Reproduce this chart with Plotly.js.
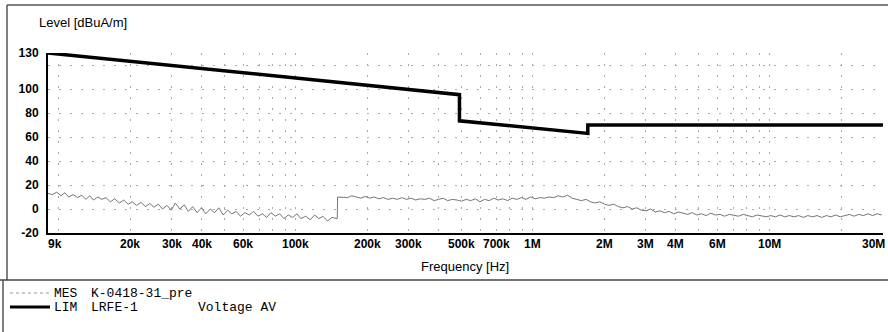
<!DOCTYPE html>
<html><head><meta charset="utf-8">
<script src="https://cdn.plot.ly/plotly-3.0.1.min.js"></script>
<style>html,body{margin:0;padding:0;background:#fff}#chart{width:888px;height:332px}</style>
</head><body><div id="chart"></div>
<script>
// MES trace (frequency in kHz, level in dBuA/m)
const mesFreqKHz = [9,9.4,9.8,10.2,10.6,11,11.5,12,12.5,13,13.5,14,14.6,15.2,15.8,16.5,17.2,18,18.8,19.6,
 20.4,21.3,22.2,23.2,24.2,25.2,26.3,27.4,28.6,29.8,31,32.4,33.8,35.2,36.7,38.3,40,41.7,43.5,45.4,
 47.3,49.4,51.5,53.7,56,58.4,61,63.6,66.3,69.2,72.2,75.3,78.5,81.9,85.4,89,92.9,96.9,101,105,
 110,115,120,125,130,136,142,149.5,150,
 158,165,172,180,188,196,205,214,224,234,245,256,268,280,293,306,320,335,350,366,383,400,418,437,457,478,
 500,523,547,572,598,625,654,684,715,748,782,818,855,894,935,978,1023,1070,1119,1170,1224,1280,1339,1400,
 1464,1531,1601,1675,1752,1832,1916,2004,2096,2192,2293,2398,2508,2623,2743,2869,3001,3139,3283,3434,
 3592,3757,3930,4110,4299,4497,4703,4919,5145,5382,5629,5888,6158,6441,6737,7047,7370,7709,8064,8434,
 8822,9227,9651,10095,10558,11044,11551,12082,12637,13218,13825,14460,15125,15820,16547,17307,18102,18934,19804,20714,
 21666,22661,23702,24791,25930,27122,28368,29672];
const mesLevel = [13,12,14,11,13.5,10,12,9.5,11.5,8,11,7.5,10,8,9.5,6,8.5,5,7.5,4,
 6,3,5.5,2,4.5,1.5,4,0,3,-1,5,0,3.5,-2,2,-3,1,-4,0,-3,
 1,-5,-1,-4,-2,-6,-3,-5,-2,-6,-4,-7,-3,-6,-4,-8,-5,-7,-4,-8,
 -6,-9,-5,-8,-6,-10,-7,-8,10,
 10,9.5,11,10,9,10.5,9,10,8.5,9.5,8,9,8,9.5,8,9,7.5,8.5,8,9,7,8,9,7,8,7.5,
 6.5,8,7,8.5,6,8,7,9,7.5,8.5,7,9,8,9.5,8,10,8.5,9.5,9,10,9.5,11,10,11.5,
 9,8,7,8,6,5,6,4,3,4,2,1,2,0,1,-1,-1.5,0,-2.5,-1.5,
 -3,-2,-4,-2.5,-3.5,-4.5,-3,-5,-4,-5.5,-3.5,-5,-4.5,-6,-4.5,-5.5,-6,-4.5,-5.5,-6.5,
 -5,-5.5,-6.5,-5.5,-6.5,-5,-6.5,-5.5,-6.5,-5.5,-7,-5.5,-6.5,-5.5,-7,-5.5,-6.5,-5,-6.5,-5.5,
 -4.5,-6,-4.5,-5.5,-4,-5.5,-4,-5];

// LIM LRFE-1 limit line
const limFreqKHz = [9,490,490,1705,1705,30000];
const limLevel = [130,95.3,73.5,63,70,70];

// axes
const gridFreqKHz = [10,20,30,40,50,60,70,80,90,100,200,300,400,500,600,700,800,900,
 1000,2000,3000,4000,5000,6000,7000,8000,9000,10000,20000,30000];
const xTickKHz = [9,20,30,40,60,100,200,300,500,700,1000,2000,3000,4000,6000,10000,30000];
const xTickText = ['9k','20k','30k','40k','60k','100k','200k','300k','500k','700k','1M','2M','3M','4M','6M','10M','30M'];
const yTickVals = [-20,0,20,40,60,80,100,120,130];
const yTickText = ['-20','0','20','40','60','80','100','','130'];

const toHz = a => a.map(v => v*1000);
const mesHz = toHz(mesFreqKHz), limHz = toHz(limFreqKHz);

const traces = [
 {x: mesHz, y: mesLevel, type:'scatter', mode:'lines', name:'MES',
  line:{color:'#666', width:0.9}, hoverinfo:'skip'},
 {x: limHz, y: limLevel, type:'scatter', mode:'lines', name:'LIM',
  line:{color:'#000', width:3.5}, hoverinfo:'skip'}
];

// pixel -> paper helpers (plot area l=48, r=883, t=53, b=233)
const PX = px => (px-48)/835;
const PY = py => (233-py)/180;

const tickFont = {size:12, color:'#000', weight:'bold'};
const annotations = [];
xTickKHz.forEach((f,i) => {
  let anchor = 'center', shift = 0;
  if (i === 0) { anchor = 'left'; shift = -2; }
  if (i === xTickKHz.length-1) { anchor = 'right'; shift = 4; }
  annotations.push({x: Math.log10(f*1000), y: PY(244), xref:'x', yref:'paper', text: xTickText[i],
    showarrow:false, xanchor:anchor, yanchor:'middle', xshift:shift, font:tickFont});
});
annotations.push({x: PX(37), y: PY(23), xref:'paper', yref:'paper', text:'Level [dBuA/m]', showarrow:false,
  xanchor:'left', yanchor:'middle', font:{size:13,color:'#000'}});
annotations.push({x: PX(465), y: PY(266), xref:'paper', yref:'paper', text:'Frequency [Hz]', showarrow:false,
  xanchor:'center', yanchor:'middle', font:{size:13,color:'#000'}});
const mono = {family:'"Liberation Mono", "DejaVu Sans Mono", monospace', size:13, color:'#000'};
[['MES',53,293],['K-0418-31_pre',90,293],['LIM',53,307],['LRFE-1',90,307],['Voltage AV',197,307]].forEach(t => {
  annotations.push({x: PX(t[1]), y: PY(t[2]), xref:'paper', yref:'paper', text:t[0], showarrow:false,
    xanchor:'left', yanchor:'middle', font:mono, borderpad:0});
});

const shapes = [
 {type:'line', xref:'paper', yref:'paper', x0:PX(7), x1:PX(888), y0:PY(5), y1:PY(5), line:{color:'#555', width:1.5}},
 {type:'line', xref:'paper', yref:'paper', x0:PX(7), x1:PX(7), y0:PY(5), y1:PY(280), line:{color:'#555', width:1.5}},
 {type:'line', xref:'paper', yref:'paper', x0:PX(0), x1:PX(888), y0:PY(280), y1:PY(280), line:{color:'#444', width:1.5}},
 {type:'line', xref:'paper', yref:'paper', x0:PX(3), x1:PX(3), y0:PY(280), y1:PY(332), line:{color:'#555', width:1.5}},
 {type:'line', xref:'paper', yref:'paper', x0:PX(10), x1:PX(50), y0:PY(293), y1:PY(293), line:{color:'#999', width:1, dash:'dot'}},
 {type:'line', xref:'paper', yref:'paper', x0:PX(10), x1:PX(50), y0:PY(307), y1:PY(307), line:{color:'#000', width:3}}
];

const layout = {
 width:888, height:332,
 margin:{l:48, r:5, t:53, b:99, pad:0},
 paper_bgcolor:'#fff', plot_bgcolor:'#fff',
 showlegend:false,
 font:{family:'"Liberation Sans", Arial, sans-serif', size:13, color:'#000'},
 xaxis:{type:'log', range:[Math.log10(mesHz[0]), Math.log10(mesHz[mesHz.length-1]*30000/29672)],
   tickvals: toHz(gridFreqKHz), showticklabels:false, ticks:'',
   showgrid:true, gridcolor:'#aaa', gridwidth:1, griddash:'2px,9px',
   showline:true, linecolor:'#000', linewidth:2, zeroline:false, fixedrange:true},
 yaxis:{range:[-20,130], tickvals:yTickVals, ticktext:yTickText, ticks:'',
   showgrid:true, gridcolor:'#aaa', gridwidth:1, griddash:'2px,9px',
   showline:true, linecolor:'#000', linewidth:2, zeroline:false, ticklabelstandoff:5,
   tickfont:tickFont, fixedrange:true},
 shapes: shapes,
 annotations: annotations
};

Plotly.newPlot('chart', traces, layout, {displayModeBar:false, staticPlot:true});
</script>
</body></html>
